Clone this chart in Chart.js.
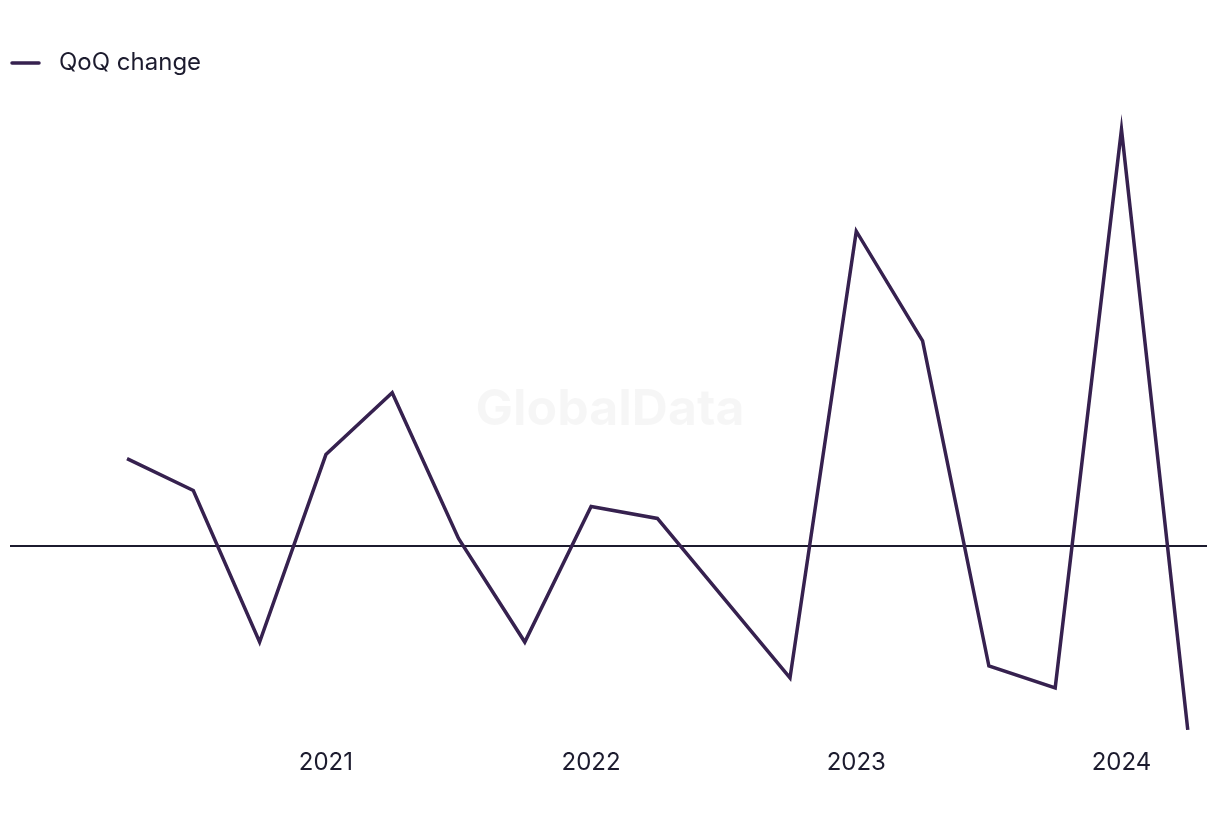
<!DOCTYPE html>
<html>
<head>
<meta charset="utf-8">
<script src="https://cdn.jsdelivr.net/npm/chart.js@4"></script>
<style>
  html, body { margin: 0; padding: 0; background: #fff; }
  #wrap { width: 1220px; height: 820px; }
</style>
</head>
<body>
<div id="wrap"><canvas id="chart"></canvas></div>
<script>
// DATA (quarter index 0 = Q2 2020)
const quarters = [0, 1, 2, 3, 4, 5, 6, 7, 8, 9, 10, 11, 12, 13, 14, 15, 16];
const qoqChange = [4.4, 2.8, -4.8, 4.6, 7.7, 0.4, -4.8, 2.0, 1.4, -2.6, -6.6, 15.8, 10.3, -6.0, -7.1, 20.9, -9.2];
const tickPositions = [3, 7, 11, 15];
const tickLabels = ["2021", "2022", "2023", "2024"];

const ink = "#1c1b2e";
const lineColor = "#36214f";

// legend swatch: 30px line with a little gap before the text
const swatch = document.createElement("canvas");
swatch.width = 37;
swatch.height = 6;
const sctx = swatch.getContext("2d");
sctx.strokeStyle = lineColor;
sctx.lineWidth = 3.5;
sctx.lineCap = "round";
sctx.beginPath();
sctx.moveTo(2, 3);
sctx.lineTo(29, 3);
sctx.stroke();

// faint watermark behind the line
const watermark = {
  id: "watermark",
  beforeDatasetsDraw(chart) {
    const { ctx } = chart;
    ctx.save();
    ctx.font = "bold 50px Inter";
    ctx.fillStyle = "rgba(0,0,0,0.035)";
    ctx.textAlign = "center";
    ctx.textBaseline = "middle";
    ctx.fillText("GlobalData", 610, 410);
    ctx.restore();
  },
};

new Chart(document.getElementById("chart"), {
  type: "line",
  data: {
    datasets: [
      {
        label: "QoQ change",
        data: quarters.map((q, i) => ({ x: q, y: qoqChange[i] })),
        borderColor: lineColor,
        backgroundColor: lineColor,
        borderWidth: 3.5,
        pointRadius: 0,
        pointStyle: swatch,
        tension: 0,
        fill: false,
      },
    ],
  },
  options: {
    responsive: true,
    maintainAspectRatio: false,
    animation: false,
    layout: { padding: { top: 51, left: 10, right: 13, bottom: 33 } },
    plugins: {
      tooltip: { enabled: false },
      legend: {
        align: "start",
        labels: {
          padding: 0,
          usePointStyle: true,
          pointStyleWidth: 37,
          color: ink,
          font: { family: "Inter", size: 24 },
        },
      },
    },
    scales: {
      x: {
        type: "linear",
        min: -1.765,
        max: 16.29,
        afterBuildTicks: (axis) => {
          axis.ticks = tickPositions.map((v) => ({ value: v }));
        },
        ticks: {
          autoSkip: false,
          maxRotation: 0,
          padding: 10,
          color: ink,
          font: { family: "Inter", size: 24 },
          callback: (v) => tickLabels[tickPositions.indexOf(v)],
        },
        grid: { display: false, drawTicks: false },
        border: { display: false },
      },
      y: {
        min: -9.62,
        max: 23.13,
        afterBuildTicks: (axis) => {
          axis.ticks = [{ value: 0 }];
        },
        afterFit: (axis) => {
          axis.width = 0;
        },
        ticks: { display: false },
        grid: { color: ink, lineWidth: 2, drawTicks: false },
        border: { display: false },
      },
    },
  },
  plugins: [watermark],
});
</script>
</body>
</html>
